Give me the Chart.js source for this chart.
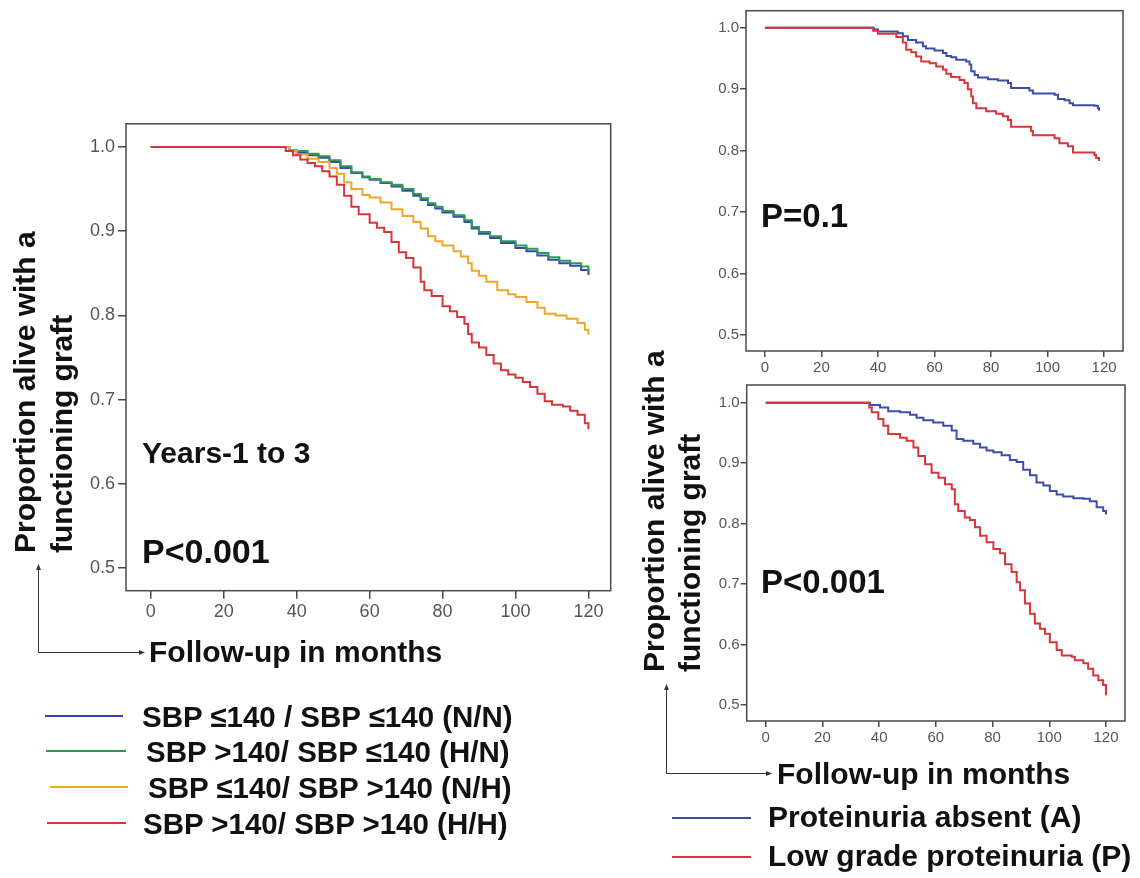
<!DOCTYPE html>
<html>
<head>
<meta charset="utf-8">
<title>Graft survival by SBP and proteinuria</title>
<script src="https://cdn.jsdelivr.net/npm/chart.js@4.4.1/dist/chart.umd.min.js"></script>
<style>
  body { margin: 0; background: #fff; width: 1140px; height: 878px; position: relative; overflow: hidden;
         font-family: "Liberation Sans", Arial, Helvetica, sans-serif; }
  canvas { position: absolute; }
  .txt { position: absolute; font-weight: bold; color: #111; white-space: nowrap; line-height: 1; }
  .rot { transform: rotate(-90deg); transform-origin: 0 0; }
  .key { position: absolute; height: 0; border-top: 2.5px solid; }
  svg { position: absolute; left: 0; top: 0; }
</style>
</head>
<body>

<canvas id="leftChart" width="556" height="530" style="left:66px; top:110px;"></canvas>
<canvas id="topChart" width="436" height="380" style="left:700px; top:0px;"></canvas>
<canvas id="bottomChart" width="436" height="380" style="left:700px; top:375px;"></canvas>

<svg width="1140" height="878">
  <g stroke="#333" stroke-width="1" fill="none">
    <path d="M38.5,652.5 V569 M38.5,652.5 H141"/>
    <path d="M666.5,773.5 V689 M666.5,773.5 H768"/>
  </g>
  <g fill="#333">
    <path d="M38.5,564 L36,570 L41,570 Z"/>
    <path d="M145,652.5 L139,650 L139,655 Z"/>
    <path d="M666.5,684 L664,690 L669,690 Z"/>
    <path d="M772,773.5 L766,771 L766,776 Z"/>
  </g>
</svg>

<div id="labels"></div>

<script>
// ---- data (months, proportion surviving) ----
const xTicks = [0, 20, 40, 60, 80, 100, 120];
const yTicks = [0.5, 0.6, 0.7, 0.8, 0.9, 1.0];

// left panel: SBP groups
const sbpLabels = ['SBP \u2264140 / SBP \u2264140 (N/N)', 'SBP >140/ SBP \u2264140 (H/N)',
                   'SBP \u2264140/ SBP >140 (N/H)', 'SBP >140/ SBP >140 (H/H)'];
const sbpColors = ['#3b45b0', '#2c9a55', '#f0a52c', '#d8343a'];

const nnMonths = [0, 36, 38, 40, 43, 46, 49, 52, 55, 58, 60, 63, 66, 69, 72, 74, 76, 78, 80, 83, 86, 88, 90, 93, 96, 100, 103, 106, 109, 112, 115, 118, 120];
const nnSurv   = [1, 1, 0.995, 0.993, 0.990, 0.987, 0.982, 0.975, 0.969, 0.964, 0.961, 0.957, 0.953, 0.948, 0.942, 0.937, 0.931, 0.927, 0.922, 0.917, 0.911, 0.903, 0.897, 0.892, 0.886, 0.880, 0.876, 0.871, 0.866, 0.862, 0.859, 0.854, 0.848];

const hnMonths = [0, 36, 38, 40, 43, 46, 49, 52, 55, 58, 60, 63, 66, 69, 72, 74, 76, 78, 80, 83, 86, 88, 90, 93, 96, 100, 103, 106, 109, 112, 115, 118, 120];
const hnSurv   = [1, 1, 0.996, 0.995, 0.992, 0.989, 0.984, 0.977, 0.970, 0.965, 0.962, 0.958, 0.955, 0.950, 0.944, 0.939, 0.933, 0.929, 0.924, 0.919, 0.913, 0.905, 0.899, 0.894, 0.888, 0.883, 0.879, 0.874, 0.869, 0.865, 0.862, 0.858, 0.852];

const nhMonths = [0, 36, 38, 40, 43, 46, 49, 51, 53, 55, 58, 60, 63, 66, 69, 72, 74, 76, 78, 80, 83, 85, 87, 88, 90, 92, 95, 98, 100, 103, 106, 108, 111, 114, 117, 119, 120];
const nhSurv   = [1, 1, 0.995, 0.991, 0.986, 0.982, 0.975, 0.968, 0.958, 0.950, 0.943, 0.940, 0.934, 0.926, 0.918, 0.911, 0.903, 0.894, 0.888, 0.883, 0.876, 0.870, 0.862, 0.853, 0.847, 0.840, 0.830, 0.825, 0.822, 0.816, 0.809, 0.802, 0.800, 0.796, 0.791, 0.783, 0.777];

const hhMonths = [0, 36, 37, 39, 41, 43, 45, 47, 49, 51, 53, 55, 57, 60, 62, 64, 66, 68, 70, 72, 74, 75, 77, 80, 82, 84, 86, 87, 88, 90, 92, 94, 96, 98, 100, 102, 104, 106, 108, 110, 113, 115, 117, 119, 120];
const hhSurv   = [1, 1, 0.995, 0.990, 0.985, 0.981, 0.977, 0.971, 0.965, 0.955, 0.942, 0.929, 0.920, 0.910, 0.904, 0.899, 0.887, 0.875, 0.868, 0.857, 0.840, 0.830, 0.823, 0.811, 0.805, 0.798, 0.790, 0.778, 0.768, 0.762, 0.753, 0.743, 0.735, 0.730, 0.726, 0.721, 0.715, 0.707, 0.698, 0.694, 0.692, 0.687, 0.682, 0.672, 0.665];

// right panels: proteinuria groups
const protLabels = ['Proteinuria absent (A)', 'Low grade proteinuria (P)'];
const protColors = ['#3c4ea6', '#d8343a'];

const topAMonths = [0, 38, 38.5, 40, 47, 48.8, 50.6, 53.5, 55.9, 57, 60, 63, 64.2, 65.9, 67.7, 71.2, 72.4, 73, 74.2, 75.4, 78.9, 82.4, 86, 87.1, 93.6, 94.8, 102.5, 103.7, 106, 107.8, 109, 116.6, 117.8, 118.2];
const topASurv   = [1, 1, 0.997, 0.994, 0.991, 0.986, 0.980, 0.976, 0.970, 0.966, 0.963, 0.959, 0.954, 0.952, 0.948, 0.945, 0.940, 0.929, 0.923, 0.919, 0.916, 0.914, 0.910, 0.902, 0.898, 0.893, 0.891, 0.884, 0.882, 0.877, 0.874, 0.873, 0.869, 0.865];

const topPMonths = [0, 38, 38.3, 40, 46.5, 48.8, 50, 51.8, 53.5, 55.3, 58.3, 60.6, 63, 64.2, 65.9, 68.9, 70.6, 71.8, 73, 73.6, 74.8, 78.3, 81.8, 84.2, 86, 87.1, 94.2, 94.8, 102.5, 104.2, 107.2, 109, 116.6, 117.2, 118.2];
const topPSurv   = [1, 1, 0.995, 0.990, 0.985, 0.976, 0.964, 0.960, 0.953, 0.945, 0.942, 0.937, 0.932, 0.925, 0.920, 0.915, 0.910, 0.900, 0.888, 0.877, 0.869, 0.864, 0.860, 0.856, 0.850, 0.839, 0.832, 0.825, 0.820, 0.812, 0.807, 0.797, 0.793, 0.788, 0.783];

const botAMonths = [0, 36.2, 36.8, 40.3, 43.2, 47.4, 50.9, 53.2, 55.6, 59.1, 62.6, 65.6, 67.3, 69.7, 73.2, 75.6, 77.9, 80.3, 83.2, 86.1, 88.5, 90.8, 93.2, 95.5, 97.9, 100.2, 102.6, 104.9, 108.5, 112, 114.3, 116.7, 119, 120];
const botASurv   = [1, 1, 0.996, 0.992, 0.986, 0.984, 0.980, 0.975, 0.971, 0.967, 0.962, 0.954, 0.940, 0.937, 0.932, 0.926, 0.921, 0.918, 0.913, 0.905, 0.902, 0.889, 0.880, 0.868, 0.863, 0.854, 0.848, 0.845, 0.842, 0.841, 0.837, 0.827, 0.821, 0.815];

const botPMonths = [0, 36.2, 36.5, 37.4, 39.7, 41.5, 43.2, 47.4, 49.7, 52.1, 53.8, 56.2, 58.5, 60.9, 63.2, 65.6, 66.7, 67.9, 70.2, 72, 73.8, 75.6, 77.9, 80.3, 82.6, 84.4, 86.7, 88.5, 89.7, 91.4, 93.2, 94.9, 96.7, 98.5, 100.2, 102.6, 104.4, 107.9, 109, 112, 113.7, 115.5, 117.3, 119, 120];
const botPSurv   = [1, 1, 0.992, 0.984, 0.973, 0.962, 0.948, 0.942, 0.937, 0.926, 0.912, 0.898, 0.884, 0.876, 0.865, 0.857, 0.832, 0.821, 0.810, 0.806, 0.794, 0.780, 0.769, 0.758, 0.751, 0.733, 0.720, 0.703, 0.690, 0.668, 0.651, 0.635, 0.626, 0.618, 0.604, 0.591, 0.582, 0.580, 0.574, 0.569, 0.560, 0.549, 0.541, 0.533, 0.516];

// ---- helpers ----
const FONT = '"Liberation Sans", Arial, Helvetica, sans-serif';

function pts(months, surv) {
    return months.map((m, i) => ({ x: m, y: surv[i] }));
}

function kmSet(label, months, surv, color, order) {
    return {
        label: label,
        data: pts(months, surv),
        borderColor: color,
        borderWidth: 2,
        pointRadius: 0,
        stepped: 'before',
        fill: false,
        order: order
    };
}

// draws the closed grey frame around the plot area
const frame = {
    id: 'frame',
    beforeDatasetsDraw(chart) {
        const a = chart.chartArea, ctx = chart.ctx;
        ctx.save();
        ctx.strokeStyle = '#4a4a4a';
        ctx.lineWidth = 1.5;
        ctx.strokeRect(a.left, a.top, a.right - a.left, a.bottom - a.top);
        ctx.restore();
    }
};

function makeChart(id, datasets, cfg) {
    return new Chart(document.getElementById(id), {
        type: 'line',
        data: { datasets: datasets },
        options: {
            responsive: false,
            animation: false,
            devicePixelRatio: 1,
            layout: { padding: { top: cfg.padTop, right: cfg.padRight, left: 0, bottom: 0 } },
            plugins: { legend: { display: false }, tooltip: { enabled: false } },
            scales: {
                x: {
                    type: 'linear', min: cfg.xMin, max: cfg.xMax,
                    afterBuildTicks: s => { s.ticks = xTicks.map(v => ({ value: v })); },
                    afterFit: s => { s.height = cfg.xHeight; },
                    border: { display: false },
                    grid: { drawOnChartArea: false, color: '#4a4a4a', lineWidth: 1.5, tickLength: cfg.tickLen },
                    ticks: { color: '#555', font: { family: FONT, size: cfg.fontSize }, padding: cfg.xPad, maxRotation: 0 }
                },
                y: {
                    type: 'linear', min: cfg.yMin, max: cfg.yMax,
                    afterBuildTicks: s => { s.ticks = yTicks.map(v => ({ value: v })); },
                    afterFit: s => { s.width = cfg.yWidth; },
                    border: { display: false },
                    grid: { drawOnChartArea: false, color: '#4a4a4a', lineWidth: 1.5, tickLength: cfg.tickLen },
                    ticks: { color: '#555', font: { family: FONT, size: cfg.fontSize }, padding: cfg.yPad,
                             callback: v => v.toFixed(1) }
                }
            }
        },
        plugins: [frame]
    });
}

// ---- the three panels ----
makeChart('leftChart', [
    kmSet(sbpLabels[3], hhMonths, hhSurv, sbpColors[3], 0),
    kmSet(sbpLabels[2], nhMonths, nhSurv, sbpColors[2], 1),
    kmSet(sbpLabels[1], hnMonths, hnSurv, sbpColors[1], 2),
    kmSet(sbpLabels[0], nnMonths, nnSurv, sbpColors[0], 3)
], { xMin: -6.8, xMax: 126.1, yMin: 0.4733, yMax: 1.0274, padTop: 9, padRight: 11.3,
     yWidth: 60, xHeight: 49.3, tickLen: 8, fontSize: 18, xPad: 3, yPad: 3 });

makeChart('topChart', [
    kmSet(protLabels[1], topPMonths, topPSurv, protColors[1], 0),
    kmSet(protLabels[0], topAMonths, topASurv, protColors[0], 1)
], { xMin: -6.7, xMax: 126.7, yMin: 0.474, yMax: 1.0277, padTop: 10.7, padRight: 13,
     yWidth: 46, xHeight: 29, tickLen: 6, fontSize: 15, xPad: 2, yPad: 1 });

makeChart('bottomChart', [
    kmSet(protLabels[1], botPMonths, botPSurv, protColors[1], 0),
    kmSet(protLabels[0], botAMonths, botASurv, protColors[0], 1)
], { xMin: -6.7, xMax: 126.7, yMin: 0.4736, yMax: 1.0292, padTop: 9, padRight: 11,
     yWidth: 46.7, xHeight: 34, tickLen: 6, fontSize: 15, xPad: 2, yPad: 1 });

// ---- text, legends ----
const holder = document.getElementById('labels');

// x, y = left edge and vertical centre of the capitals
function addText(str, x, y, size, extraClass) {
    const d = document.createElement('div');
    d.className = 'txt' + (extraClass ? ' ' + extraClass : '');
    d.textContent = str;
    d.style.fontSize = size + 'px';
    d.style.left = x + 'px';
    d.style.top = (y - 0.49 * size) + 'px';
    holder.appendChild(d);
    return d;
}

// rotated axis title: x = left edge of line box, y = where the text starts (bottom)
function addRotated(str, x, y, size) {
    const d = document.createElement('div');
    d.className = 'txt rot';
    d.textContent = str;
    d.style.fontSize = size + 'px';
    d.style.left = x + 'px';
    d.style.top = y + 'px';
    holder.appendChild(d);
}

function addKey(color, x1, x2, y) {
    const k = document.createElement('div');
    k.className = 'key';
    k.style.borderColor = color;
    k.style.left = x1 + 'px';
    k.style.width = (x2 - x1) + 'px';
    k.style.top = (y - 1) + 'px';
    holder.appendChild(k);
}

addRotated('Proportion alive with a', 10, 553, 30);
addRotated('functioning graft', 47, 553, 30);
addRotated('Proportion alive with a', 639, 672, 30);
addRotated('functioning graft', 675, 672, 30);

addText('Follow-up in months', 149, 652, 30);
addText('Follow-up in months', 777, 774, 30);

addText('Years-1 to 3', 142, 453, 30);
addText('P<0.001', 142, 551, 34);
addText('P=0.1', 761, 215, 33);
addText('P<0.001', 761, 581, 33);

const sbpRows = [716, 751, 787, 823];
const sbpKeyX = [[45, 123], [46, 126], [50, 128], [47, 126]];
const sbpTextX = [142, 146, 148, 143];
sbpLabels.forEach((lab, i) => {
    addKey(sbpColors[i], sbpKeyX[i][0], sbpKeyX[i][1], sbpRows[i]);
    addText(lab, sbpTextX[i], sbpRows[i], 29.5);
});

const protRows = [817, 856];
protLabels.forEach((lab, i) => {
    addKey(protColors[i], 672, 751, protRows[i] + 1);
    addText(lab, 768, protRows[i], 30);
});
</script>
</body>
</html>
